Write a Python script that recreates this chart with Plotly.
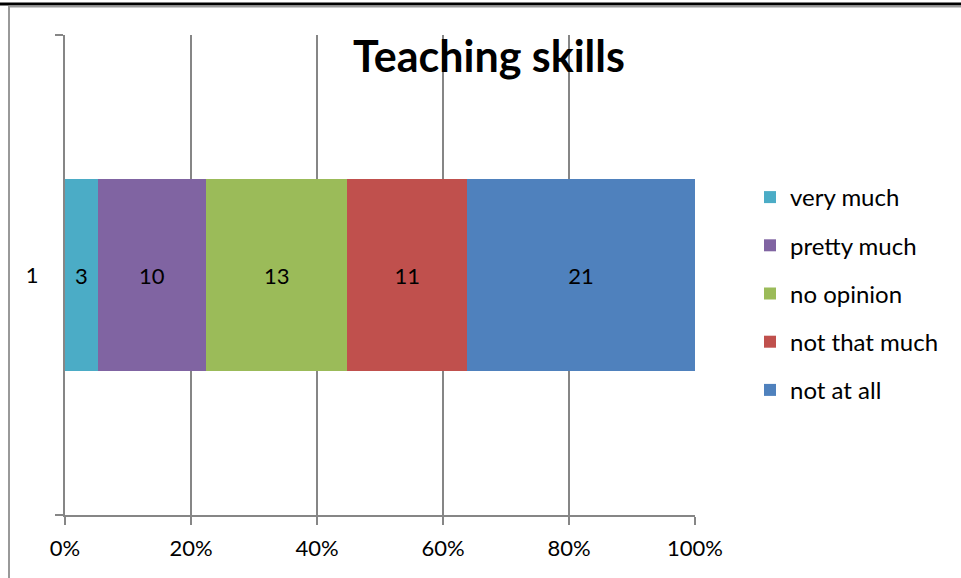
import plotly.graph_objects as go

categories = ["1"]
series_names = ["very much", "pretty much", "no opinion", "not that much", "not at all"]
series_values = [[3], [10], [13], [11], [21]]
colors = ["#4BACC6", "#8064A2", "#9BBB59", "#C0504D", "#4F81BD"]
tick_vals = [0, 0.2, 0.4, 0.6, 0.8, 1.0]
tick_text = ["0%", "20%", "40%", "60%", "80%", "100%"]

FONT = "Lato, 'Open Sans', sans-serif"

total = [sum(v[i] for v in series_values) for i in range(len(categories))]

fig = go.Figure()
for name, vals, col in zip(series_names, series_values, colors):
    share = [v / t for v, t in zip(vals, total)]
    fig.add_trace(go.Bar(
        y=categories, x=share, name=name, orientation="h",
        marker=dict(color=col, line=dict(width=0)),
        text=[str(v) for v in vals], textposition="inside",
        insidetextanchor="middle", textangle=0,
        textfont=dict(color="black", size=22, family=FONT),
        legendgroup=name, hoverinfo="name+text",
    ))

W, H = 630, 480
def px(x): return (x - 65) / W
def py(y): return (515 - y) / H

fig.update_layout(
    barmode="stack", bargap=0.6,
    width=961, height=578,
    margin=dict(l=65, r=266, t=35, b=63),
    plot_bgcolor="white", paper_bgcolor="white",
    font=dict(family=FONT, size=22, color="black"),
    title=dict(text="<b>Teaching skills</b>", x=489 / 961, y=1 - 57 / 578,
               xanchor="center", yanchor="middle", xref="container", yref="container",
               font=dict(size=43, family=FONT, color="black")),
    legend=dict(x=px(750), y=py(175), xanchor="left", yanchor="top",
                traceorder="grouped", tracegroupgap=14,
                font=dict(size=24, family=FONT), itemwidth=30),
    showlegend=True,
)

fig.update_xaxes(range=[0, 1], tickvals=tick_vals, ticktext=tick_text,
                 showgrid=True, gridcolor="#868686", gridwidth=2,
                 showline=True, linecolor="#868686", linewidth=2,
                 ticks="outside", ticklen=8, tickcolor="#868686", tickwidth=2,
                 tickfont=dict(size=22), zeroline=False, fixedrange=True,
                 ticklabelstandoff=5)
fig.update_yaxes(type="category", tickson="boundaries", range=[-0.5, 0.5],
                 showline=True, linecolor="#868686", linewidth=2,
                 ticks="outside", ticklen=8, tickcolor="#868686", tickwidth=2,
                 showgrid=False, tickfont=dict(size=22), ticklabelstandoff=20)

# outer frame of the original picture
fig.add_shape(type="line", xref="paper", yref="paper", x0=px(0), x1=px(961), y0=py(4), y1=py(4),
              line=dict(color="black", width=3))
fig.add_shape(type="line", xref="paper", yref="paper", x0=px(9), x1=px(961), y0=py(6.5), y1=py(6.5),
              line=dict(color="#999999", width=2))
fig.add_shape(type="line", xref="paper", yref="paper", x0=px(9), x1=px(9), y0=py(6), y1=py(578),
              line=dict(color="#999999", width=2))

fig.write_html("out.html", config={"displayModeBar": False},
               post_script="document.body.style.margin='0';")
